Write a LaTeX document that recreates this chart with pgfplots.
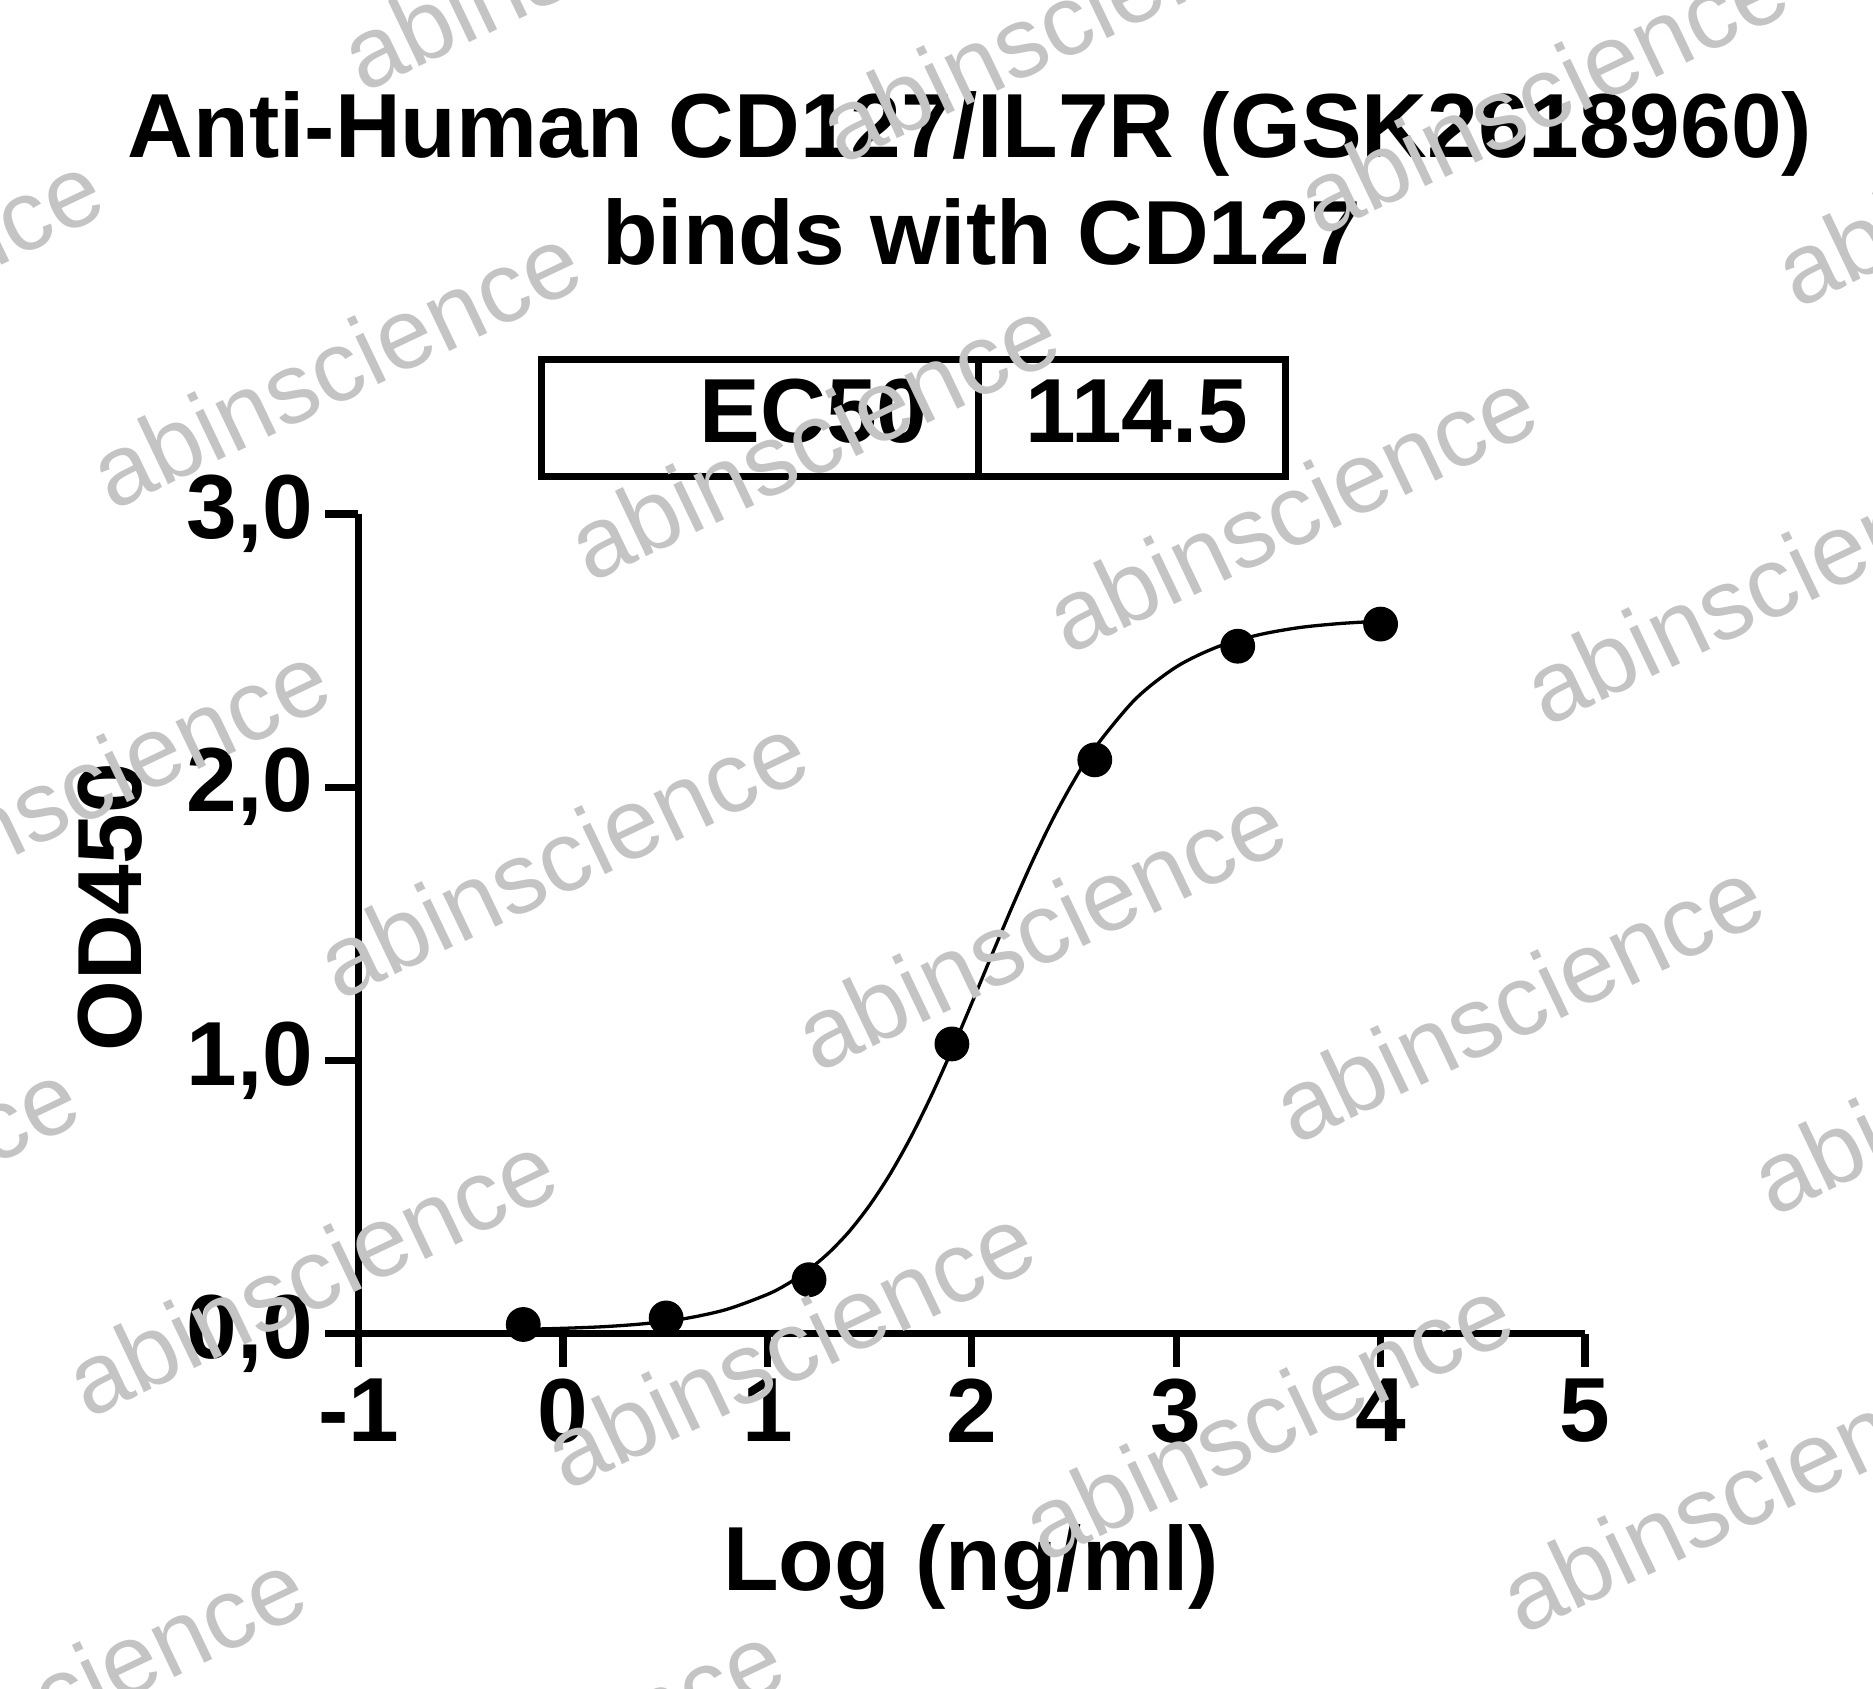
\documentclass[border=0pt]{standalone}
\usepackage{pgfplots}
\pgfplotsset{compat=1.18}
\usepackage{fontspec}
\setmainfont{Liberation Sans}
\newcommand\bigf{\fontsize{25.9pt}{31pt}\selectfont\bfseries}
\newcommand\wmf{\fontsize{28.4pt}{30pt}\selectfont}
\definecolor{wm}{RGB}{196,196,196}
\begin{document}
\begin{tikzpicture}
\begin{axis}[
  at={(0,0)}, anchor=south west,
  scale only axis, width=122.65mm, height=81.95mm,
  xmin=-1, xmax=5, ymin=0, ymax=3,
  axis x line=bottom, axis y line=left,
  axis line style={-, line width=0.73mm, black},
  xtick={-1,0,1,2,3,4,5}, ytick={0,1,2,3},
  xticklabels={-1,0,1,2,3,4,5},
  yticklabels={{0,0},{1,0},{2,0},{3,0}},
  tick align=outside, major tick length=3.3mm,
  every tick/.style={black, line width=0.73mm},
  minor tick num=0,
  tick label style={font=\bigf},
  clip=false,
]
\addplot[smooth, black, line width=0.33mm, no marks] coordinates {
(-0.2,0.015) (0,0.019) (0.2,0.025) (0.4,0.036) (0.6,0.055) (0.8,0.088)
(1.0,0.143) (1.1,0.182) (1.2,0.232) (1.3,0.295) (1.4,0.373) (1.5,0.469)
(1.6,0.583) (1.7,0.716) (1.8,0.867) (1.9,1.033) (2.0,1.209) (2.1,1.389)
(2.2,1.566) (2.3,1.734) (2.4,1.888) (2.5,2.024) (2.6,2.142) (2.8,2.322)
(3.0,2.440) (3.2,2.513) (3.4,2.557) (3.6,2.584) (3.8,2.599) (4.0,2.608)
};
\addplot[only marks, mark=*, mark size=1.67mm, black] coordinates {
(-0.194,0.033) (0.505,0.057) (1.204,0.197) (1.903,1.06) (2.602,2.10) (3.301,2.516) (4.0,2.597)
};
\end{axis}
% title
\node[anchor=base, inner sep=0] at (61.15mm,117.55mm) {\bigf Anti-Human CD127/IL7R (GSK2618960)};
\node[anchor=base, inner sep=0] at (62.3mm,106.85mm) {\bigf binds with CD127};
% EC50 table
\draw[line width=0.7mm] (18.3mm,85.7mm) rectangle (92.7mm,97.4mm);
\draw[line width=0.7mm] (61.95mm,85.7mm) -- (61.95mm,97.4mm);
\node[anchor=base east, inner sep=0] at (56.95mm,89.05mm) {\bigf EC50};
\node[anchor=base west, inner sep=0] at (66.65mm,89.05mm) {\bigf 114.5};
% axis labels
\node[anchor=base, inner sep=0, rotate=90] at (-21.65mm,42.6mm) {\bigf OD450};
\node[anchor=base, inner sep=0] at (61.25mm,-25.65mm) {\bigf Log (ng/ml)};
% watermarks
\begin{scope}
\clip (-35.85mm,-35.45mm) rectangle (151.45mm,133.35mm);
\foreach \i in {-3,...,6}{
  \foreach \j in {-2,...,4}{
    \node[anchor=base west, inner sep=0, rotate=25.5, text=wm, font=\wmf]
      at ({(-24.65+47.8*\i-25.1*\j)*1mm},{(82.15-7.2*\i-41.8*\j)*1mm}) {abinscience};
  }
}
\end{scope}
\pgfresetboundingbox
\path[use as bounding box] (-35.85mm,-35.45mm) rectangle (151.45mm,133.35mm);
\end{tikzpicture}
\end{document}
